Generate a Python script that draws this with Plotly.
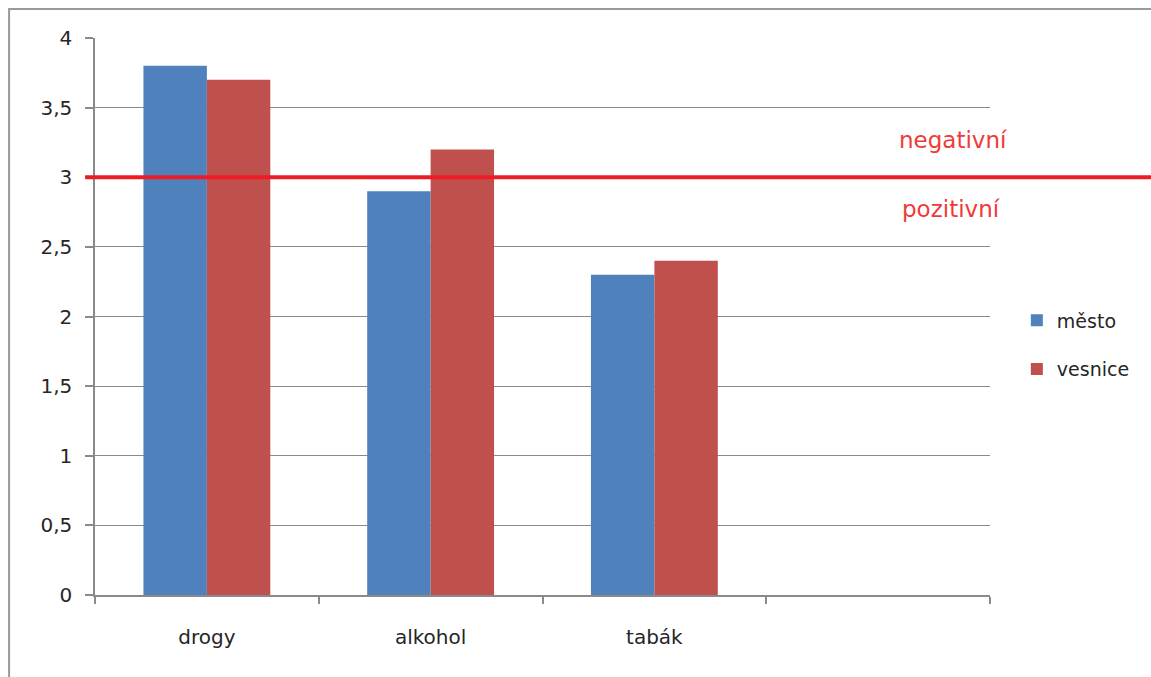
import plotly.graph_objects as go

categories = ["drogy", "alkohol", "tabák", " "]
mesto = [3.8, 2.9, 2.3, None]
vesnice = [3.7, 3.2, 2.4, None]
series_names = ["město", "vesnice"]
threshold = 3
label_above = "negativní"
label_below = "pozitivní"
y_ticks = [0, 0.5, 1, 1.5, 2, 2.5, 3, 3.5, 4]

FONT = "DejaVu Sans"
GRAY = "#8a8a8a"
TXT = "#262626"

fig = go.Figure()
fig.add_trace(go.Bar(x=categories, y=mesto, name=series_names[0],
                     marker=dict(color="#4F81BD", line=dict(width=0)),
                     legendgroup="a"))
fig.add_trace(go.Bar(x=categories, y=vesnice, name=series_names[1],
                     marker=dict(color="#C0504D", line=dict(width=0)),
                     legendgroup="b"))

fig.update_layout(
    width=1151, height=677,
    margin=dict(l=95, r=161, t=38, b=82),
    paper_bgcolor="white", plot_bgcolor="white",
    separators=", ",
    barmode="group", bargap=0.433, bargroupgap=0,
    font=dict(family=FONT, size=20, color=TXT),
    showlegend=True,
    legend=dict(x=1.03, y=0.527, xanchor="left", yanchor="top",
                font=dict(size=19, color=TXT, family=FONT),
                traceorder="grouped", tracegroupgap=21,
                itemwidth=30, bgcolor="rgba(0,0,0,0)"),
    xaxis=dict(categoryorder="array", categoryarray=categories,
               range=[-0.5, 3.5], showgrid=False,
               showline=True, linecolor=GRAY, linewidth=1.5,
               ticks="outside", tickson="boundaries", ticklen=7,
               tickcolor=GRAY, tickwidth=1.5, ticklabelstandoff=23,
               tickfont=dict(size=20, color=TXT, family=FONT)),
    yaxis=dict(range=[0, 4], tickvals=y_ticks, showgrid=True,
               gridcolor=GRAY, gridwidth=1.2,
               showline=True, linecolor=GRAY, linewidth=1.5,
               ticks="outside", ticklen=8, tickcolor=GRAY, tickwidth=1.5,
               ticklabelstandoff=9, zeroline=False,
               tickfont=dict(size=20, color=TXT, family=FONT)),
)

# outer chart border (extends off-screen right and bottom)
fig.add_shape(type="rect", xref="paper", yref="paper",
              x0=-0.096, x1=1.4, y0=-0.4, y1=1.052,
              line=dict(color="#9a9a9a", width=2), layer="below")

# threshold line
fig.add_shape(type="line", xref="paper", yref="y",
              x0=-0.011, x1=1.3, y0=threshold, y1=threshold,
              line=dict(color="#ED1C24", width=4), layer="above")

fig.add_annotation(xref="paper", yref="y", x=0.959, y=3.27,
                   xanchor="center", yanchor="middle",
                   text=label_above, showarrow=False,
                   font=dict(size=23, color="#F03A3A", family=FONT))
fig.add_annotation(xref="paper", yref="y", x=0.956, y=2.77,
                   xanchor="center", yanchor="middle",
                   text=label_below, showarrow=False,
                   font=dict(size=23, color="#F03A3A", family=FONT))

fig.write_html("out.html")
